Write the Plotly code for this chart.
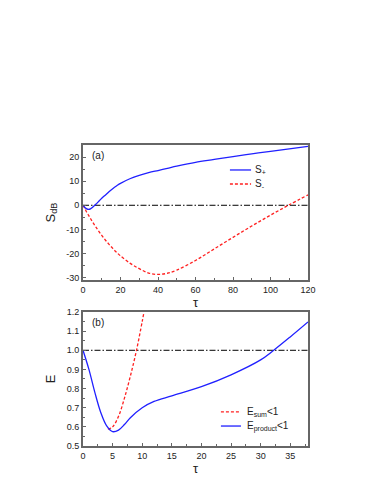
import plotly.graph_objects as go

# ---- data ----
tau_a = [0, 1, 2, 3, 4, 5, 6, 7, 8, 10, 12, 14, 16, 18, 20, 25, 30, 35, 40, 45, 50,
         60, 70, 80, 90, 100, 110, 120]
S_plus = [0, -0.9, -1.5, -1.7, -1.5, -0.9, -0.2, 0.5, 1.3, 2.9, 4.3, 5.7, 7.0, 8.1, 9.1,
          11.0, 12.4, 13.5, 14.4, 15.3, 16.2, 17.8, 19.0, 20.2, 21.3, 22.4, 23.4, 24.4]
S_minus = [0, -1.4, -2.9, -4.2, -5.5, -6.8, -8.0, -9.2, -10.3, -12.5, -14.5, -16.3, -18.0,
           -19.6, -21.0, -24.0, -26.3, -28.1, -28.7, -28.2, -26.9, -22.9, -18.1, -13.3,
           -8.6, -4.1, 0.2, 4.3]
ref_a_x = [0, 120]
ref_a_y = [0, 0]
ytick_a_vals = [-30, -20, -10, 0, 10, 20]
ytick_a_text = ["-30", "-20", "-10", "0", "10", "20"]

tau_p = [0, 1, 2, 3, 4, 5, 6, 7, 8, 10, 12, 15, 20, 25, 30, 32, 35, 38]
E_product = [1.0, 0.90, 0.78, 0.675, 0.605, 0.575, 0.583, 0.612, 0.648, 0.70, 0.733,
             0.762, 0.81, 0.872, 0.95, 0.995, 1.07, 1.148]
tau_s = [4.2, 5, 6, 7, 8, 9, 10, 10.3]
E_sum = [0.588, 0.600, 0.655, 0.75, 0.865, 0.995, 1.15, 1.2]
ref_b_x = [0, 38]
ref_b_y = [1.0, 1.0]

BLUE = "#2020ff"
RED = "#ff2020"
AX = "#666666"
FONT = "Liberation Sans, Arial, sans-serif"
DASH = "3px,2px"
DASHDOT = "6px,2px,1.5px,2px"

fig = go.Figure()
fig.add_trace(go.Scatter(x=ref_a_x, y=ref_a_y, mode="lines", xaxis="x", yaxis="y",
                         line=dict(color="black", width=1, dash=DASHDOT), showlegend=False))
fig.add_trace(go.Scatter(x=tau_a, y=S_minus, mode="lines", xaxis="x", yaxis="y", name="S-",
                         line=dict(color=RED, width=1.3, dash=DASH, shape="spline"), showlegend=False))
fig.add_trace(go.Scatter(x=tau_a, y=S_plus, mode="lines", xaxis="x", yaxis="y", name="S+",
                         line=dict(color=BLUE, width=1.3, shape="spline"), showlegend=False))

fig.add_trace(go.Scatter(x=ref_b_x, y=ref_b_y, mode="lines", xaxis="x2", yaxis="y2",
                         line=dict(color="black", width=1, dash=DASHDOT), showlegend=False))
fig.add_trace(go.Scatter(x=tau_s, y=E_sum, mode="lines", xaxis="x2", yaxis="y2", name="Esum<1",
                         line=dict(color=RED, width=1.3, dash=DASH, shape="spline"), showlegend=False))
fig.add_trace(go.Scatter(x=tau_p, y=E_product, mode="lines", xaxis="x2", yaxis="y2", name="Eproduct<1",
                         line=dict(color=BLUE, width=1.3, shape="spline"), showlegend=False))

def ax(**kw):
    d = dict(showline=True, linecolor=AX, linewidth=1.8, mirror=True, ticks="inside",
             ticklen=3, tickcolor=AX, tickwidth=1, showgrid=False, zeroline=False,
             tickfont=dict(size=9, color="#222", family=FONT))
    d.update(kw)
    return d

fig.update_layout(
    width=374, height=484,
    margin=dict(l=75, r=74, t=137, b=46),
    paper_bgcolor="white", plot_bgcolor="white",
    font=dict(family=FONT, color="#222"),
    xaxis=ax(domain=[0, 1], range=[0, 120], dtick=20, anchor="y",
             minor=dict(ticks="inside", ticklen=2, dtick=10, tickcolor=AX),
             title=dict(text="τ", standoff=2, font=dict(size=13))),
    yaxis=ax(domain=[0.5515, 1], range=[-31, 25], tickvals=ytick_a_vals, ticktext=ytick_a_text,
             anchor="x",
             minor=dict(ticks="inside", ticklen=2, dtick=5, tickcolor=AX),
             title=dict(text="S<sub>dB</sub>", standoff=8, font=dict(size=13))),
    xaxis2=ax(domain=[0, 1], range=[0, 38], dtick=5, anchor="y2",
              minor=dict(ticks="inside", ticklen=2, dtick=2.5, tickcolor=AX),
              title=dict(text="τ", standoff=2, font=dict(size=13))),
    yaxis2=ax(domain=[0, 0.4452], range=[0.5, 1.2], dtick=0.1, tickformat=".1f", anchor="x2",
              minor=dict(ticks="inside", ticklen=2, dtick=0.05, tickcolor=AX),
              title=dict(text="E", standoff=8, font=dict(size=13))),
)

ann = [
    dict(text="(a)", xref="x domain", yref="y domain", x=0.03, y=0.92, xanchor="left", yanchor="middle"),
    dict(text="(b)", xref="x2 domain", yref="y2 domain", x=0.03, y=0.925, xanchor="left", yanchor="middle"),
    dict(text="S<sub>+</sub>", xref="x domain", yref="y domain", x=0.756, y=0.815, xanchor="left", yanchor="middle"),
    dict(text="S<sub>-</sub>", xref="x domain", yref="y domain", x=0.756, y=0.711, xanchor="left", yanchor="middle"),
    dict(text="E<sub>sum</sub>&lt;1", xref="x2 domain", yref="y2 domain", x=0.72, y=0.254, xanchor="left", yanchor="middle"),
    dict(text="E<sub>product</sub>&lt;1", xref="x2 domain", yref="y2 domain", x=0.72, y=0.149, xanchor="left", yanchor="middle"),
]
for a in ann:
    a.update(showarrow=False, font=dict(size=10, family=FONT, color="#222"))
fig.update_layout(annotations=ann)

shapes = [
    dict(type="line", xref="x domain", yref="y domain", x0=0.653, x1=0.747, y0=0.815, y1=0.815,
         line=dict(color=BLUE, width=1.3)),
    dict(type="line", xref="x domain", yref="y domain", x0=0.653, x1=0.747, y0=0.711, y1=0.711,
         line=dict(color=RED, width=1.3, dash=DASH)),
    dict(type="line", xref="x2 domain", yref="y2 domain", x0=0.613, x1=0.702, y0=0.254, y1=0.254,
         line=dict(color=RED, width=1.3, dash=DASH)),
    dict(type="line", xref="x2 domain", yref="y2 domain", x0=0.613, x1=0.702, y0=0.149, y1=0.149,
         line=dict(color=BLUE, width=1.3)),
]
fig.update_layout(shapes=shapes)

fig.write_html("out.html")
